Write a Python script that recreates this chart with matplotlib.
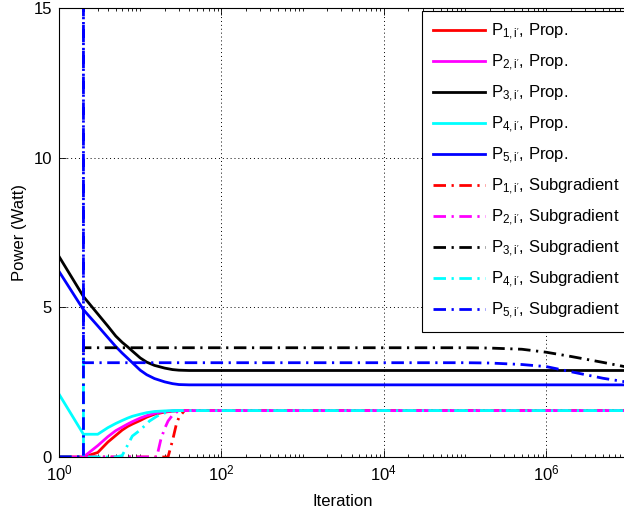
import numpy as np
import matplotlib
matplotlib.use("Agg")
import matplotlib.pyplot as plt
from matplotlib.ticker import LogLocator, NullFormatter

plt.rcParams['font.family'] = ['Liberation Sans', 'DejaVu Sans']
plt.rcParams['mathtext.fontset'] = 'custom'
plt.rcParams['mathtext.rm'] = 'Liberation Sans'
plt.rcParams['mathtext.it'] = 'Liberation Sans'
plt.rcParams['mathtext.default'] = 'regular'

# proposed algorithm: power of each user vs. iteration
prop_iter = [1, 2, 3, 4, 5, 6, 7, 8, 10, 12, 15, 20, 25, 30, 40, 1e7]
p1_prop = [0, 0, 0.15, 0.5, 0.72, 0.9, 1.02, 1.1, 1.22, 1.33, 1.43, 1.5, 1.53, 1.55, 1.55, 1.55]
p2_prop = [0, 0, 0.38, 0.68, 0.88, 1.0, 1.1, 1.18, 1.3, 1.38, 1.46, 1.52, 1.54, 1.55, 1.55, 1.55]
p3_prop = [6.7, 5.36, 4.78, 4.37, 4.04, 3.83, 3.68, 3.54, 3.31, 3.17, 3.06, 2.97, 2.92, 2.9, 2.89, 2.89]
p4_prop = [2.1, 0.76, 0.76, 0.98, 1.12, 1.22, 1.3, 1.36, 1.43, 1.48, 1.52, 1.54, 1.55, 1.55, 1.55, 1.55]
p5_prop = [6.2, 4.92, 4.38, 3.99, 3.69, 3.47, 3.3, 3.15, 2.9, 2.75, 2.62, 2.51, 2.45, 2.42, 2.41, 2.41]

# subgradient method (iteration 2 repeated for the initial jump)
sub_iter = [1, 2, 2, 2, 3, 4, 5, 6, 8, 10, 13, 16, 18, 20, 22, 25, 28, 30, 35, 40,
            1e5, 2e5, 5e5, 1e6, 2e6, 5e6, 1e7]
p1_sub = [0, 0, 0, 0, 0, 0, 0, 0, 0, 0, 0, 0, 0, 0, 0, 0.55, 1.12, 1.32, 1.55, 1.55,
          1.55, 1.55, 1.55, 1.55, 1.55, 1.55, 1.55]
p2_sub = [0, 0, 0, 0, 0, 0, 0, 0, 0, 0, 0, 0, 0.6, 0.95, 1.2, 1.4, 1.5, 1.53, 1.55, 1.55,
          1.55, 1.55, 1.55, 1.55, 1.55, 1.55, 1.55]
p3_sub = [0, 0, 3.65, 3.65, 3.65, 3.65, 3.65, 3.65, 3.65, 3.65, 3.65, 3.65, 3.65, 3.65,
          3.65, 3.65, 3.65, 3.65, 3.65, 3.65, 3.65, 3.64, 3.6, 3.5, 3.36, 3.16, 3.0]
p4_sub = [0, 0, 3.4, 0, 0, 0, 0, 0.05, 0.7, 0.9, 1.2, 1.36, 1.43, 1.47, 1.5, 1.53, 1.55, 1.55,
          1.55, 1.55, 1.55, 1.55, 1.55, 1.55, 1.55, 1.55, 1.55]
p5_sub = [0, 0, 20, 3.15, 3.15, 3.15, 3.15, 3.15, 3.15, 3.15, 3.15, 3.15, 3.15, 3.15,
          3.15, 3.15, 3.15, 3.15, 3.15, 3.15, 3.15, 3.14, 3.09, 3.02, 2.85, 2.63, 2.5]

colors = ['#ff0000', '#ff00ff', '#000000', '#00ffff', '#0000ff']
prop_series = [p1_prop, p2_prop, p3_prop, p4_prop, p5_prop]
sub_series = [p1_sub, p2_sub, p3_sub, p4_sub, p5_sub]

fig = plt.figure(figsize=(6.24, 5.12), dpi=100)
ax = fig.add_axes([59/624, 55/512, 568.5/624, 449/512])

handles = []
for k, (vals, c) in enumerate(zip(prop_series, colors)):
    h, = ax.semilogx(prop_iter, vals, '-', color=c, lw=2,
                     label=r"P$_{%d,i'}$, Prop." % (k + 1))
    handles.append(h)
for k, (vals, c) in enumerate(zip(sub_series, colors)):
    h, = ax.semilogx(sub_iter, vals, color=c, lw=2, linestyle=(0, (4.5, 2, 0.8, 2)),
                     label=r"P$_{%d,i'}$, Subgradient" % (k + 1))
    handles.append(h)

ax.set_xlim(1, 1e7)
ax.set_ylim(0, 15)
ax.set_xticks([1, 1e2, 1e4, 1e6])
ax.xaxis.set_minor_locator(LogLocator(base=10, subs=np.arange(1, 10), numticks=50))
ax.xaxis.set_minor_formatter(NullFormatter())
ax.set_yticks([0, 5, 10, 15])
ax.tick_params(which='both', direction='in', top=True, right=True, labelsize=12,
               width=0.6, pad=5)
ax.tick_params(which='major', length=5)
ax.tick_params(which='minor', length=2.5)
for s in ax.spines.values():
    s.set_linewidth(0.8)
ax.grid(True, which='major', linestyle=(0, (1, 3)), color='black', linewidth=0.7)

ax.set_xlabel('Iteration', fontsize=12, labelpad=7)
ax.set_ylabel('Power (Watt)', fontsize=12, labelpad=5)

leg = ax.legend(handles=handles, loc='upper left', bbox_to_anchor=(422/624, 1 - 11/512),
                bbox_transform=fig.transFigure, borderaxespad=0, fontsize=12,
                handlelength=3.1, handletextpad=0.4, labelspacing=0.64,
                borderpad=0.65, fancybox=False, framealpha=1, edgecolor='black')
leg.get_frame().set_linewidth(0.8)

fig.savefig('out.png', dpi=100)
